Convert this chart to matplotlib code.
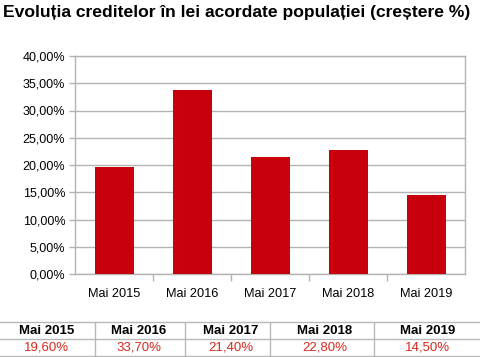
import numpy as np
import matplotlib.pyplot as plt
from matplotlib.lines import Line2D
from matplotlib.ticker import FuncFormatter, MultipleLocator

plt.rcParams['font.family'] = ['Liberation Sans', 'DejaVu Sans']

categories = ['Mai 2015', 'Mai 2016', 'Mai 2017', 'Mai 2018', 'Mai 2019']
values = [19.6, 33.7, 21.4, 22.8, 14.5]
labels = ['19,60%', '33,70%', '21,40%', '22,80%', '14,50%']

W, H = 481, 357
fig = plt.figure(figsize=(W / 100, H / 100), dpi=100)

# plot area in pixels
left, right, top, bottom = 75, 465, 56, 274
ax = fig.add_axes([left / W, 1 - bottom / H, (right - left) / W, (bottom - top) / H])

x = np.arange(len(categories))
ax.bar(x, values, width=0.5, color='#c8000c', zorder=3)
ax.set_xlim(-0.5, len(categories) - 0.5)
ax.set_ylim(0, 40)
ax.yaxis.set_major_locator(MultipleLocator(5))
ax.yaxis.set_major_formatter(FuncFormatter(lambda v, p: ('%.2f%%' % v).replace('.', ',')))
ax.grid(axis='y', color='#b3b3b3', linewidth=1, zorder=0)

ax.set_xticks(x)
ax.set_xticklabels(categories)
ax.set_xticks(np.arange(0.5, len(categories) - 0.5, 1), minor=True)
ax.tick_params(axis='x', which='major', length=0, pad=10, labelsize=9.2, colors='#000000')
ax.tick_params(axis='x', which='minor', length=5, color='#b3b3b3', width=1)
ax.tick_params(axis='y', length=4, color='#b3b3b3', width=1, labelsize=9, pad=3)
for s in ax.spines.values():
    s.set_color('#b3b3b3')
    s.set_linewidth(1)

fig.text(3 / W, 1 - 12 / H, 'Evoluția creditelor în lei acordate populației (creștere %)',
         fontsize=12.6, fontweight='bold', ha='left', va='center')

# table under the chart
grey = '#b8b8b8'
for yy in [322, 339, 356]:
    fig.add_artist(Line2D([0, 1], [1 - yy / H] * 2, color=grey, lw=1))
for xx in [95, 185, 270, 374]:
    fig.add_artist(Line2D([xx / W] * 2, [1 - 322 / H, 1 - 356 / H], color=grey, lw=1))
centers = [47, 139, 231, 325, 428]
for c, cat, lab in zip(centers, categories, labels):
    fig.text(c / W, 1 - 331 / H, cat, ha='center', va='center', fontsize=9.5,
             fontweight='bold', color='#000000')
    fig.text(c / W, 1 - 348 / H, lab, ha='center', va='center', fontsize=9.5,
             color='#d42a1e')

fig.savefig('out.png', dpi=100)
